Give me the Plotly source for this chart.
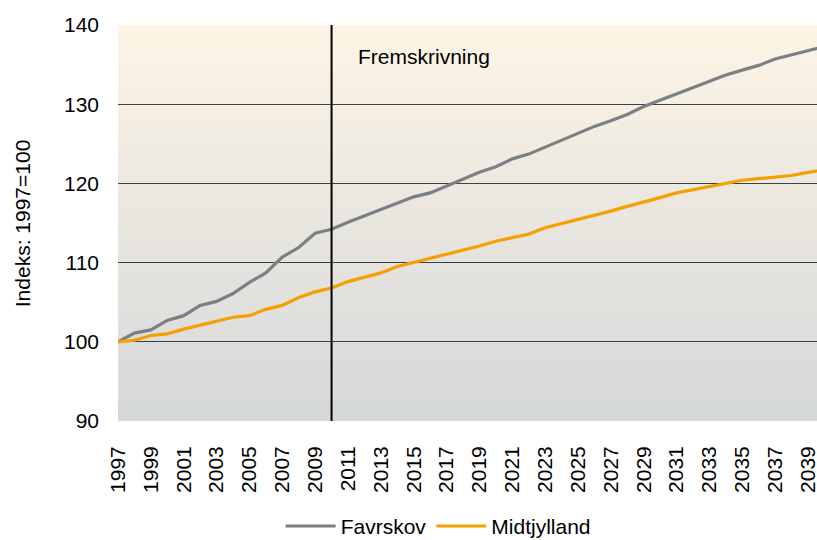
import plotly.graph_objects as go

years = list(range(1997, 2041))

favrskov = [
    100.0, 101.1, 101.5, 102.7, 103.3, 104.6, 105.1, 106.1, 107.5, 108.7,
    110.7, 111.9, 113.7, 114.2, 115.1, 115.9, 116.8, 117.6, 118.3, 118.8,
    119.7, 120.6, 121.4, 122.1, 123.1, 123.7, 124.6, 125.5, 126.3, 127.2,
    127.9, 128.7, 129.7, 130.5, 131.3, 132.0, 132.8, 133.7, 134.3, 134.9,
    135.7, 136.2, 136.8, 137.3,
]
midtjylland = [
    100.0, 100.2, 100.8, 101.0, 101.6, 102.1, 102.6, 103.1, 103.3, 104.1,
    104.6, 105.6, 106.3, 106.8, 107.6, 108.1, 108.7, 109.5, 110.0, 110.5,
    111.1, 111.6, 112.1, 112.7, 113.2, 113.6, 114.4, 114.9, 115.5, 116.0,
    116.5, 117.1, 117.6, 118.2, 118.8, 119.2, 119.6, 120.0, 120.4, 120.6,
    120.8, 121.0, 121.4, 121.7,
]
tick_years = list(range(1997, 2040, 2))
forecast_start = 2010

FONT = "Liberation Sans, Arial, sans-serif"

fig = go.Figure()
fig.add_trace(go.Scatter(x=years, y=favrskov, name="Favrskov", mode="lines",
                         line=dict(color="#7b8084", width=3.2)))
fig.add_trace(go.Scatter(x=years, y=midtjylland, name="Midtjylland", mode="lines",
                         line=dict(color="#f5a000", width=3.2)))

# background gradient: cream at top fading to grey at bottom
top = (253, 244, 229)
bottom = (213, 216, 218)
n = 60
shapes = []
for i in range(n):
    t = i / (n - 1)
    c = tuple(round(top[k] + (bottom[k] - top[k]) * t) for k in range(3))
    # bands overlap a little so no seams show between them
    shapes.append(dict(type="rect", xref="paper", yref="paper", x0=0, x1=1,
                       y0=max(0, 1 - (i + 1) / n - 0.004), y1=1 - i / n,
                       layer="below", line=dict(width=0),
                       fillcolor="rgb(%d,%d,%d)" % c))
shapes.append(dict(type="line", xref="x", yref="paper", x0=forecast_start,
                   x1=forecast_start, y0=0, y1=1, line=dict(color="black", width=2)))

fig.update_layout(
    width=817,
    height=540,
    margin=dict(l=118, r=0, t=25, b=119, autoexpand=False),
    paper_bgcolor="white",
    plot_bgcolor="rgba(0,0,0,0)",
    font=dict(family=FONT, color="black"),
    shapes=shapes,
    showlegend=True,
    legend=dict(orientation="h", x=0.458, xanchor="center", y=-0.266,
                yanchor="middle", font=dict(size=21), itemwidth=50,
                tracegroupgap=0),
    annotations=[
        dict(text="Fremskrivning", x=forecast_start, xref="x",
             xshift=24, y=0.92, yref="paper", xanchor="left",
             yanchor="middle", showarrow=False, font=dict(size=21)),
        dict(text="Indeks: 1997=100", x=-0.137, xref="paper", y=0.5,
             yref="paper", textangle=-90, showarrow=False,
             xanchor="center", yanchor="middle", font=dict(size=21)),
    ],
)
fig.update_xaxes(
    range=[1997, 2039.55],
    tickmode="array",
    tickvals=tick_years,
    ticktext=[str(y) for y in tick_years],
    tickangle=-90,
    tickfont=dict(size=21),
    showgrid=False,
    zeroline=False,
    showline=False,
    ticks="",
    ticklabelstandoff=20,
    ticklabeloverflow="allow",
    automargin=False,
)
fig.update_yaxes(
    range=[90, 140],
    dtick=10,
    tickfont=dict(size=21),
    gridcolor="#404040",
    gridwidth=1,
    zeroline=False,
    showline=False,
    ticks="",
    ticklabelstandoff=18,
    automargin=False,
)

# drop the default body margin so the figure fills the window exactly
fig.write_html(
    "out.html",
    config=dict(displayModeBar=False),
    post_script="document.body.style.margin='0';document.body.style.overflow='hidden';",
)
